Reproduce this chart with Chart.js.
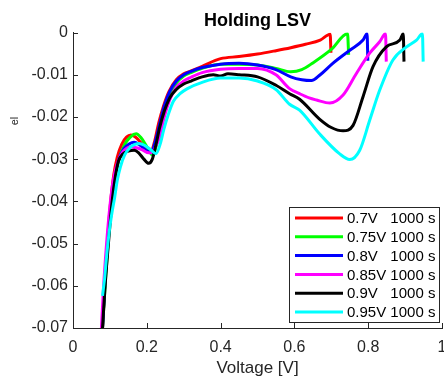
<!DOCTYPE html>
<html>
<head>
<meta charset="utf-8">
<script src="https://cdn.jsdelivr.net/npm/chart.js@4/dist/chart.umd.min.js"></script>
<style>
html,body{margin:0;padding:0;background:#fff;}
#c{display:block;}
</style>
</head>
<body>
<canvas id="c" width="444" height="381"></canvas>
<script>
// ---- data ----
const v07  = [0.080,0.086,0.093,0.100,0.110,0.120,0.132,0.145,0.157,0.170,0.185,0.200,0.212,0.222,0.232,0.245,0.260,0.280,0.300,0.320,0.350,0.400,0.450,0.500,0.550,0.590,0.630,0.670,0.697,0.699];
const i07  = [-0.070,-0.060,-0.050,-0.042,-0.034,-0.0295,-0.0265,-0.0248,-0.0243,-0.0248,-0.0262,-0.0278,-0.0280,-0.0255,-0.0215,-0.0175,-0.0140,-0.0112,-0.0098,-0.0091,-0.0080,-0.0062,-0.0057,-0.0051,-0.0043,-0.0036,-0.0028,-0.0018,-0.0004,-0.0048];

const v075 = [0.080,0.087,0.095,0.103,0.113,0.125,0.140,0.156,0.171,0.185,0.200,0.216,0.228,0.240,0.252,0.265,0.280,0.300,0.320,0.350,0.400,0.450,0.500,0.550,0.590,0.620,0.650,0.700,0.744,0.747];
const i075 = [-0.070,-0.060,-0.050,-0.042,-0.035,-0.0300,-0.0265,-0.0247,-0.0240,-0.0250,-0.0270,-0.0291,-0.0260,-0.0215,-0.0175,-0.0145,-0.0120,-0.0103,-0.0095,-0.0085,-0.0075,-0.0075,-0.0077,-0.0085,-0.0093,-0.0088,-0.0072,-0.0040,-0.0003,-0.0053];

const v08  = [0.080,0.086,0.094,0.102,0.112,0.124,0.138,0.152,0.166,0.180,0.195,0.211,0.224,0.236,0.248,0.262,0.280,0.300,0.320,0.350,0.400,0.450,0.500,0.550,0.590,0.620,0.646,0.670,0.704,0.750,0.786,0.797,0.799];
const i08  = [-0.070,-0.060,-0.050,-0.042,-0.035,-0.0300,-0.0275,-0.0264,-0.0260,-0.0266,-0.0277,-0.0285,-0.0255,-0.0212,-0.0172,-0.0140,-0.0115,-0.0100,-0.0092,-0.0083,-0.0075,-0.0073,-0.0077,-0.0088,-0.0105,-0.0112,-0.0114,-0.0100,-0.0073,-0.0042,-0.0018,-0.0003,-0.0067];

const v085 = [0.077,0.083,0.091,0.099,0.109,0.120,0.135,0.157,0.172,0.188,0.205,0.215,0.225,0.234,0.248,0.262,0.280,0.300,0.320,0.350,0.400,0.450,0.500,0.550,0.587,0.614,0.640,0.660,0.696,0.732,0.768,0.804,0.831,0.847,0.849];
const i085 = [-0.070,-0.060,-0.050,-0.042,-0.035,-0.0310,-0.0283,-0.0271,-0.0273,-0.0278,-0.0285,-0.0284,-0.0268,-0.0250,-0.0198,-0.0160,-0.0130,-0.0115,-0.0106,-0.0095,-0.0087,-0.0085,-0.0085,-0.0100,-0.0133,-0.0145,-0.0155,-0.0160,-0.0167,-0.0148,-0.0097,-0.0049,-0.0022,-0.0003,-0.0069];

const v09  = [0.080,0.087,0.096,0.106,0.115,0.123,0.135,0.150,0.166,0.178,0.192,0.205,0.215,0.225,0.235,0.248,0.262,0.280,0.300,0.320,0.350,0.380,0.400,0.420,0.450,0.500,0.550,0.587,0.614,0.668,0.700,0.732,0.759,0.786,0.813,0.849,0.886,0.895,0.897];
const i09  = [-0.070,-0.060,-0.050,-0.040,-0.034,-0.0305,-0.0288,-0.0281,-0.0279,-0.0285,-0.0300,-0.0310,-0.0300,-0.0265,-0.0225,-0.0185,-0.0155,-0.0135,-0.0122,-0.0115,-0.0105,-0.0100,-0.0103,-0.0098,-0.0100,-0.0105,-0.0125,-0.0145,-0.0158,-0.0205,-0.0225,-0.0233,-0.0220,-0.0152,-0.0081,-0.0034,-0.0018,-0.0003,-0.0069];

const v095 = [0.080,0.084,0.086,0.090,0.097,0.105,0.113,0.120,0.128,0.140,0.155,0.168,0.180,0.195,0.210,0.225,0.236,0.246,0.258,0.272,0.290,0.310,0.350,0.400,0.450,0.500,0.550,0.587,0.614,0.668,0.722,0.750,0.777,0.804,0.831,0.867,0.904,0.931,0.947,0.949];
const i095 = [-0.0624,-0.0595,-0.058,-0.054,-0.048,-0.043,-0.039,-0.035,-0.032,-0.0290,-0.0272,-0.0265,-0.0263,-0.0268,-0.0277,-0.0287,-0.0265,-0.0230,-0.0195,-0.0163,-0.0145,-0.0133,-0.0118,-0.0108,-0.0108,-0.0115,-0.0135,-0.0170,-0.0184,-0.0240,-0.0287,-0.0301,-0.0279,-0.0208,-0.0137,-0.0065,-0.0034,-0.0018,-0.0003,-0.0069];

const seriesLabels = ['0.7V   1000 s','0.75V 1000 s','0.8V   1000 s','0.85V 1000 s','0.9V   1000 s','0.95V 1000 s'];
const seriesColors = ['#FF0000','#00FF00','#0000FF','#FF00FF','#000000','#00FFFF'];
const xTickValues = [0,0.2,0.4,0.6,0.8,1];
const xTickLabels = ['0','0.2','0.4','0.6','0.8','1'];
const yTickValues = [0,-0.01,-0.02,-0.03,-0.04,-0.05,-0.06,-0.07];
const yTickLabels = ['0','-0.01','-0.02','-0.03','-0.04','-0.05','-0.06','-0.07'];
const titleText = 'Holding LSV';
const xTitleText = 'Voltage [V]';
const yTitleText = 'el';

const allV = [v07,v075,v08,v085,v09,v095];
const allI = [i07,i075,i08,i085,i09,i095];

const FONT = '"Liberation Sans", Arial, Helvetica, sans-serif';
const AXC = '#262626';

const datasets = allV.map((vs, k) => ({
  label: seriesLabels[k],
  data: vs.map((v, j) => ({x: v, y: allI[k][j]})),
  borderColor: seriesColors[k],
  backgroundColor: seriesColors[k],
  borderWidth: 3,
  pointRadius: 0,
  cubicInterpolationMode: 'monotone',
  fill: false,
  order: allV.length - k,
  borderJoinStyle: 'round',
  borderCapStyle: 'butt'
}));

const decor = {
  id: 'decor',
  beforeDatasetsDraw(chart) {
    const ctx = chart.ctx, a = chart.chartArea;
    const xs = chart.scales.x, ys = chart.scales.y;
    ctx.save();
    ctx.strokeStyle = AXC;
    ctx.lineWidth = 1;
    ctx.beginPath();
    xTickValues.forEach(v => {
      const px = Math.round(xs.getPixelForValue(v)) + 0.5;
      ctx.moveTo(px, a.bottom); ctx.lineTo(px, a.bottom - 5);
    });
    yTickValues.forEach(v => {
      const py = Math.round(ys.getPixelForValue(v)) + 0.5;
      ctx.moveTo(a.left, py); ctx.lineTo(a.left + 5, py);
    });
    ctx.stroke();
    ctx.restore();
  },
  afterDatasetsDraw(chart) {
    const ctx = chart.ctx, a = chart.chartArea;
    ctx.save();
    // legend box
    const bx = 289.5, by = 207.5, bw = 150, bh = 115;
    ctx.fillStyle = '#fff';
    ctx.fillRect(bx, by, bw, bh);
    ctx.strokeStyle = AXC;
    ctx.lineWidth = 1;
    ctx.strokeRect(bx, by, bw, bh);
    ctx.font = '15px ' + FONT;
    ctx.textBaseline = 'middle';
    ctx.textAlign = 'left';
    chart.data.datasets.forEach((ds, k) => {
      const yy = 218 + k * 18.8;
      ctx.strokeStyle = ds.borderColor;
      ctx.lineWidth = 3;
      ctx.beginPath();
      ctx.moveTo(295, yy); ctx.lineTo(343, yy);
      ctx.stroke();
      ctx.fillStyle = '#000';
      ctx.fillText(ds.label, 347, yy + 1);
    });
    // title
    ctx.fillStyle = '#000';
    ctx.font = 'bold 18px ' + FONT;
    ctx.textAlign = 'center';
    ctx.textBaseline = 'middle';
    ctx.fillText(titleText, (a.left + a.right) / 2, 21);
    // x title
    ctx.fillStyle = AXC;
    ctx.font = '17px ' + FONT;
    ctx.fillText(xTitleText, (a.left + a.right) / 2, 368);
    // y title (garbled in reference)
    ctx.save();
    ctx.translate(15, 121);
    ctx.rotate(-Math.PI / 2);
    ctx.font = '11px ' + FONT;
    ctx.fillText(yTitleText, 0, 0);
    ctx.restore();
    ctx.restore();
  }
};

new Chart(document.getElementById('c'), {
  type: 'line',
  data: { datasets },
  options: {
    responsive: false,
    animation: false,
    devicePixelRatio: 1,
    layout: { padding: { top: 32.5, right: 2, left: 0, bottom: 0 } },
    plugins: { legend: { display: false }, tooltip: { enabled: false }, title: { display: false } },
    scales: {
      x: {
        type: 'linear', min: 0, max: 1,
        afterBuildTicks: s => { s.ticks = xTickValues.map(v => ({value: v})); },
        afterFit: s => { s.height = 53; s.paddingLeft = 0; s.paddingRight = 0; },
        ticks: {
          callback: (v, i) => xTickLabels[i],
          color: AXC, font: { size: 16, family: FONT }, padding: 10, maxRotation: 0, autoSkip: false
        },
        grid: { display: false, drawTicks: false },
        border: { display: true, color: AXC, width: 1 }
      },
      y: {
        type: 'linear', min: -0.07, max: 0,
        afterBuildTicks: s => { s.ticks = yTickValues.slice().reverse().map(v => ({value: v})); },
        afterFit: s => { s.width = 73; s.paddingTop = 0; s.paddingBottom = 0; },
        ticks: {
          callback: (v, i, arr) => yTickLabels[yTickValues.indexOf(arr[i].value)],
          color: AXC, font: { size: 16, family: FONT }, padding: 5, autoSkip: false
        },
        grid: { display: false, drawTicks: false },
        border: { display: true, color: AXC, width: 1 }
      }
    }
  },
  plugins: [decor]
});
</script>
</body>
</html>
